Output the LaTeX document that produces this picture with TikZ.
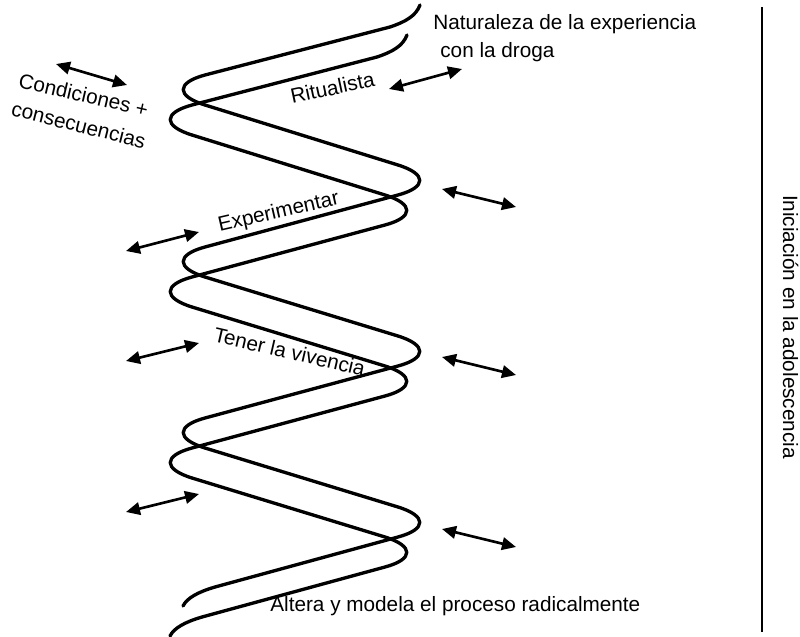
\documentclass[tikz,border=0pt]{standalone}
\usepackage{fontspec}
\setmainfont{Liberation Sans}
\usetikzlibrary{arrows.meta}
\begin{document}
\begin{tikzpicture}[x=0.2mm, y=-0.2mm,
  strand/.style={line width=1.9pt, line join=round, line cap=round},
  dbl/.style={line width=1.5pt, {Triangle[length=2.8mm,width=2.5mm]}-{Triangle[length=2.8mm,width=2.5mm]}},
  vline/.style={line width=1.6pt},
  lbl/.style={font=\fontsize{11.8}{14}\selectfont, inner sep=0pt}]
\fill[white] (0,0) rectangle (800,637);
\useasboundingbox (0,0) rectangle (800,637);
\newcommand{\helixpath}{(420,5) .. controls (416,16) and (405,22) .. (390,27)
 -- (205,75) .. controls (176,82.8) and (176,96) .. (205,105)
 -- (398,165) .. controls (427,174) and (427,187.2) .. (398,195)
 -- (205,247) .. controls (176,254.8) and (176,268) .. (205,277)
 -- (398,336) .. controls (427,345) and (427,358.2) .. (398,366)
 -- (205,418) .. controls (176,425.8) and (176,439) .. (205,448)
 -- (398,507) .. controls (427,516) and (427,529.2) .. (398,537)
 -- (215,587) .. controls (198,592) and (187,598) .. (183,606)}
% two strands of the helix
\draw[strand] \helixpath;
\draw[strand, shift={(-13,30)}] \helixpath;
% labels
\node[lbl, anchor=base west] (nat1) at (433,29) {Naturaleza de la experiencia};
\node[lbl, anchor=base west] (nat2) at (440,57) {con la droga};
\node[lbl, anchor=base west] (alt) at (270,611) {Altera y modela el proceso radicalmente};
\node[lbl, anchor=base, rotate=-90] (ini) at (783,327) {Iniciación en la adolescencia};
\node[lbl, anchor=base, rotate=12] (rit) at (334,95) {Ritualista};
\node[lbl, anchor=base, rotate=13] (exper) at (280,218) {Experimentar};
\node[lbl, anchor=base, rotate=-13] (ten) at (288,359) {Tener la vivencia};
\node[lbl, anchor=base, rotate=-13] (cond) at (82,102) {Condiciones +};
\node[lbl, anchor=base, rotate=-14] (cons) at (77,132) {consecuencias};
% arrows
\coordinate (a1s) at (56,64);  \coordinate (a1e) at (127,85);
\coordinate (a2s) at (389,89); \coordinate (a2e) at (462,69);
\coordinate (r1s) at (442,189); \coordinate (r1e) at (516,207);
\coordinate (r2s) at (442,357); \coordinate (r2e) at (516,375);
\coordinate (r3s) at (442,529); \coordinate (r3e) at (516,547);
\coordinate (l1s) at (126,251); \coordinate (l1e) at (199,232);
\coordinate (l2s) at (126,361); \coordinate (l2e) at (199,343);
\coordinate (l3s) at (126,512); \coordinate (l3e) at (199,494);
\draw[dbl] (a1s) -- (a1e);
\draw[dbl] (a2s) -- (a2e);
\draw[dbl] (r1s) -- (r1e);
\draw[dbl] (r2s) -- (r2e);
\draw[dbl] (r3s) -- (r3e);
\draw[dbl] (l1s) -- (l1e);
\draw[dbl] (l2s) -- (l2e);
\draw[dbl] (l3s) -- (l3e);
% vertical rule
\coordinate (vt) at (762,7); \coordinate (vb) at (762,632);
\draw[vline] (vt) -- (vb);
\end{tikzpicture}
\end{document}
